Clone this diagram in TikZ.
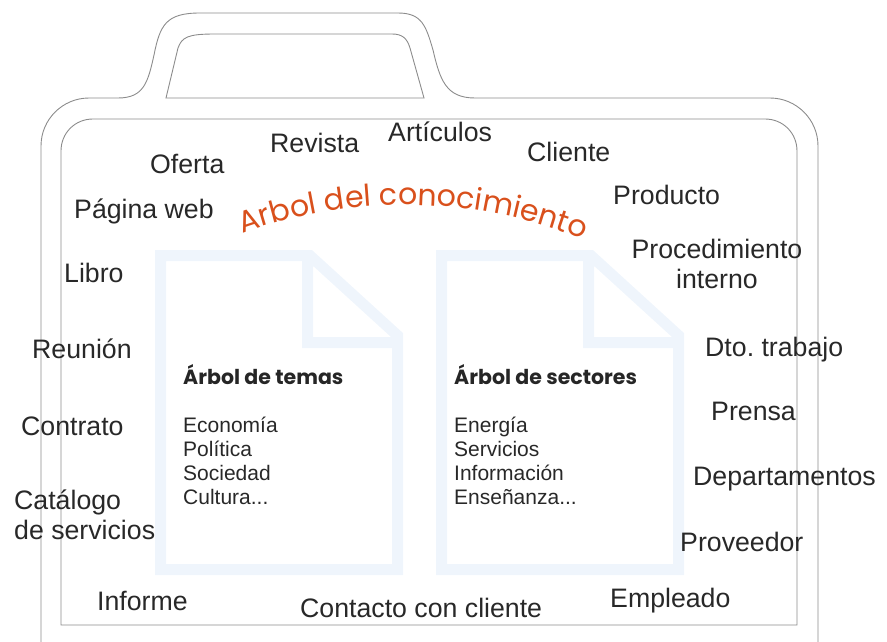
\documentclass[tikz,border=0pt]{standalone}
\usepackage{fontspec}
\setmainfont{Liberation Sans}
\newfontfamily\geoFont{Poppins}
\usetikzlibrary{decorations.text}
\definecolor{bagLine}{RGB}{140,140,140}
\definecolor{docBlue}{RGB}{239,245,252}
\definecolor{titleOrange}{RGB}{217,80,28}
\definecolor{labelGray}{RGB}{40,40,40}
\newcommand\docShift{281}
\newcommand\itemSkip{24}
\newcommand\etcDots{...}
\newcommand{\docPath}[2]{
    (#1,#2) -- ({#1 + 149.3},#2) -- ({#1 + 237},{#2 + 80}) -- ({#1 + 237},{#2 + 314}) -- (#1,{#2 + 314}) -- cycle
    ({#1 + 147},#2) -- ({#1 + 147},{#2 + 87}) -- ({#1 + 237},{#2 + 87})
}
\tikzset{
    word/.style={anchor=base west, inner sep=0pt, text=labelGray, font=\fontsize{26.7}{30}\selectfont},
    docTitle/.style={anchor=base west, inner sep=0pt, text=black!85, font=\geoFont\bfseries\fontsize{20.5}{22}\selectfont},
    docItem/.style={anchor=base west, inner sep=0pt, text=labelGray, font=\fontsize{21}{24}\selectfont},
}

\begin{document}
\begin{tikzpicture}[x=1pt, y=-1pt]
        \useasboundingbox (0,0) rectangle (887,642);

        % case
        \begin{scope}[draw=bagLine, line width=0.9pt]
            \draw (41,642) -- (41,146) .. controls (41,119.5) and (62.5,98) .. (89,98) -- (118,98)
                .. controls (144,98) and (148,82) .. (154,55) .. controls (160,25) and (166,13) .. (200,13)
                -- (398,13) .. controls (422,13) and (426,26) .. (433,50) .. controls (440,80) and (446,98) .. (475,98)
                -- (770,98) .. controls (796.5,98) and (818,119.5) .. (818,146) -- (818,642);
            \draw (166,98) -- (178,48) .. controls (182,37) and (188,34) .. (215,34) -- (392,34)
                .. controls (402,34) and (407,38) .. (410,48) -- (424,98) -- cycle;
            \draw (61,625) -- (61,151) .. controls (61,133) and (75,119) .. (93,119) -- (765,119)
                .. controls (783,119) and (797,133) .. (797,151) -- (797,625) -- cycle;
        \end{scope}

        % documents
        \draw[docBlue, line width=11pt] \docPath{160.5}{255.5};
        \draw[docBlue, line width=11pt] \docPath{160.5 + \docShift}{255.5};

        \node[docTitle] (temas) at (183,384) {Árbol de temas};
        \foreach \entry [count=\i] in {Economía, Política, Sociedad, Cultura\etcDots}
            \node[docItem] (temas\i) at (183, {408 + \itemSkip * \i}) {\entry};

        \node[docTitle] (sectores) at (454,384) {Árbol de sectores};
        \foreach \entry [count=\i] in {Energía, Servicios, Información, Enseñanza\etcDots}
            \node[docItem] (sectores\i) at (454, {408 + \itemSkip * \i}) {\entry};

        % title on the arc
        \path[decorate, decoration={text along path, text align=center,
                text format delimiters={|}{|},
                text={|\geoFont\fontsize{30}{32}\selectfont\color{titleOrange}|Arbol del conocimiento}}]
            (241.2,233.9) arc[start angle=-110, end angle=-68, radius=479];

        % words round the case
        \node[word] (revista) at (270,152) {Revista};
        \node[word] (articulos) at (388,142) {Artículos};
        \node[word] (oferta) at (150,173) {Oferta};
        \node[word] (cliente) at (527,161) {Cliente};
        \node[word] (producto) at (613,204) {Producto};
        \node[word] (paginaweb) at (74,218) {Página web};
        \node[word, anchor=base] (procedimiento) at (717,258) {Procedimiento};
        \node[word, anchor=base] (interno) at (717,288) {interno};
        \node[word] (libro) at (64,282) {Libro};
        \node[word] (reunion) at (32,358) {Reunión};
        \node[word] (dtotrabajo) at (705,356) {Dto.\ trabajo};
        \node[word] (prensa) at (711,420) {Prensa};
        \node[word] (contrato) at (21,435) {Contrato};
        \node[word] (departamentos) at (693,485) {Departamentos};
        \node[word] (catalogo) at (14,509) {Catálogo};
        \node[word] (servicios) at (14,539) {de servicios};
        \node[word] (proveedor) at (680,551) {Proveedor};
        \node[word] (empleado) at (610,607) {Empleado};
        \node[word] (informe) at (97,610) {Informe};
        \node[word] (contacto) at (300,617) {Contacto con cliente};

    \end{tikzpicture}
\end{document}
